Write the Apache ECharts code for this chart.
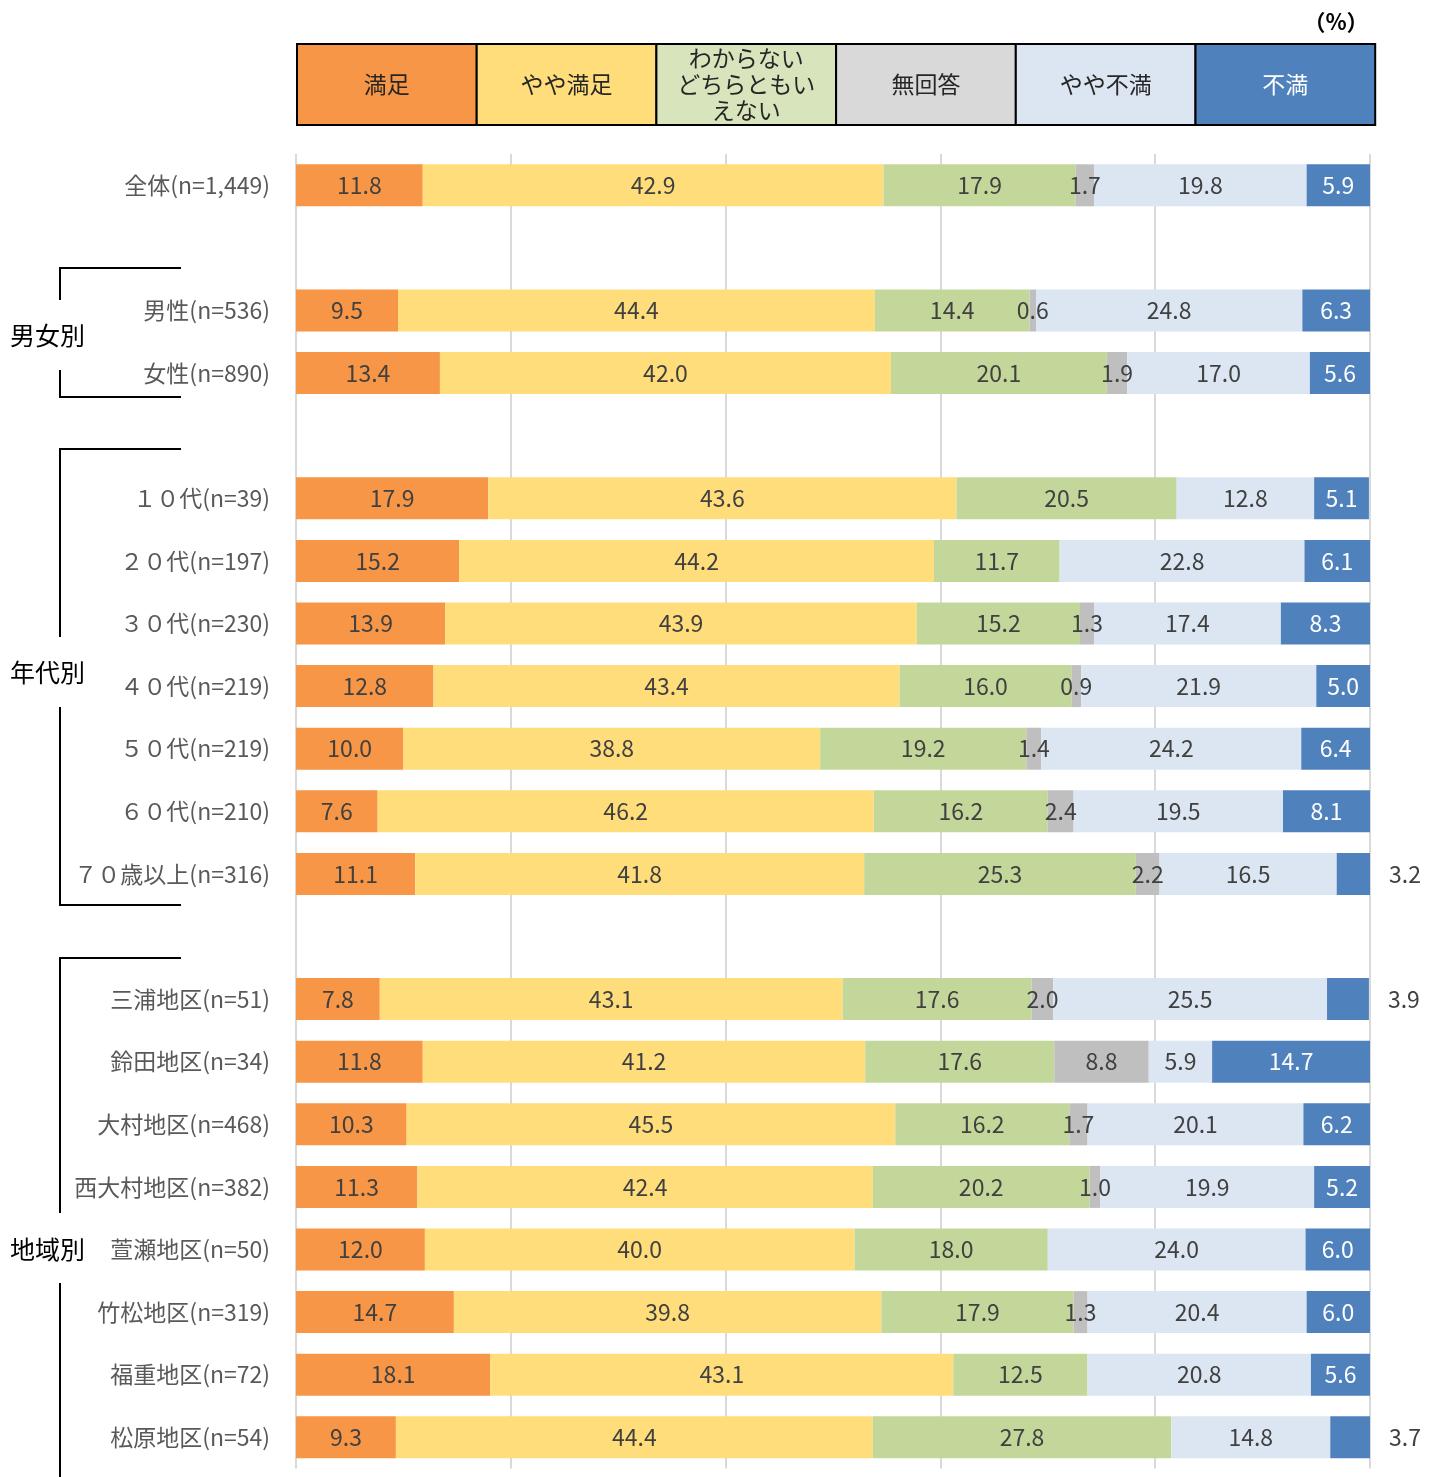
<!DOCTYPE html>
<html><head><meta charset="utf-8">
<script src="https://cdn.jsdelivr.net/npm/echarts@6/dist/echarts.min.js"></script>
<style>html,body{margin:0;padding:0;background:#fff}#c{width:1442px;height:1477px}</style>
</head><body><div id="c"></div>
<script>
// ---- data ----
const categories = ['全体(n=1,449)', ' ', '男性(n=536)', '女性(n=890)', '  ',
  '１０代(n=39)', '２０代(n=197)', '３０代(n=230)', '４０代(n=219)', '５０代(n=219)', '６０代(n=210)', '７０歳以上(n=316)', '   ',
  '三浦地区(n=51)', '鈴田地区(n=34)', '大村地区(n=468)', '西大村地区(n=382)', '萱瀬地区(n=50)', '竹松地区(n=319)', '福重地区(n=72)', '松原地区(n=54)'];
const seriesNames = ['満足', 'やや満足', 'わからない どちらともいえない', '無回答', 'やや不満', '不満'];
const legendLabels = ['満足', 'やや満足', 'わからない\nどちらともい\nえない', '無回答', 'やや不満', '不満'];
const manzoku   = [11.8, null, 9.5, 13.4, null, 17.9, 15.2, 13.9, 12.8, 10.0, 7.6, 11.1, null, 7.8, 11.8, 10.3, 11.3, 12.0, 14.7, 18.1, 9.3];
const yayaManzoku = [42.9, null, 44.4, 42.0, null, 43.6, 44.2, 43.9, 43.4, 38.8, 46.2, 41.8, null, 43.1, 41.2, 45.5, 42.4, 40.0, 39.8, 43.1, 44.4];
const wakaranai = [17.9, null, 14.4, 20.1, null, 20.5, 11.7, 15.2, 16.0, 19.2, 16.2, 25.3, null, 17.6, 17.6, 16.2, 20.2, 18.0, 17.9, 12.5, 27.8];
const mukaitou  = [1.7, null, 0.6, 1.9, null, 0, 0, 1.3, 0.9, 1.4, 2.4, 2.2, null, 2.0, 8.8, 1.7, 1.0, 0, 1.3, 0, 0];
const yayaFuman = [19.8, null, 24.8, 17.0, null, 12.8, 22.8, 17.4, 21.9, 24.2, 19.5, 16.5, null, 25.5, 5.9, 20.1, 19.9, 24.0, 20.4, 20.8, 14.8];
const fuman     = [5.9, null, 6.3, 5.6, null, 5.1, 6.1, 8.3, 5.0, 6.4, 8.1, 3.2, null, 3.9, 14.7, 6.2, 5.2, 6.0, 6.0, 5.6, 3.7];
const groupNames = ['男女別', '年代別', '地域別'];

// ---- styles ----
const FONT = "'Noto Sans CJK JP', 'Noto Sans', sans-serif";
const barColors = ['#F79646', '#FFDD7B', '#C4D79B', '#BFBFBF', '#DCE6F2', '#4F81BD'];
const legendColors = ['#F79646', '#FFDD7B', '#D8E4BC', '#D9D9D9', '#DCE6F2', '#4F81BD'];
const labelColors = ['#404040', '#404040', '#404040', '#404040', '#404040', '#FFFFFF'];
const allValues = [manzoku, yayaManzoku, wakaranai, mukaitou, yayaFuman, fuman];

const chart = echarts.init(document.getElementById('c'));

const series = allValues.map((vals, si) => ({
  name: seriesNames[si],
  type: 'bar',
  stack: 'total',
  barWidth: 42,
  itemStyle: {color: barColors[si]},
  label: {
    show: true,
    position: 'inside',
    fontFamily: FONT,
    fontSize: 23,
    color: labelColors[si],
    formatter: p => (p.value ? p.value.toFixed(1) : '')
  },
  data: vals.map(v => {
    if (si === 5 && v != null && v < 4) {
      return {value: v, label: {position: 'right', distance: 19, color: '#404040'}};
    }
    return v;
  })
}));

// legend cells
const graphics = [];
const lgLeft = 297, lgTop = 44, lgW = 179.7, lgH = 81;
legendLabels.forEach((t, i) => {
  graphics.push({
    type: 'rect',
    shape: {x: lgLeft + i * lgW, y: lgTop, width: lgW, height: lgH},
    style: {fill: legendColors[i], stroke: '#000', lineWidth: 2},
    z: 10
  });
  graphics.push({
    type: 'text',
    x: lgLeft + i * lgW + lgW / 2,
    y: lgTop + lgH / 2,
    style: {text: t, textAlign: 'center', textVerticalAlign: 'middle',
      fontFamily: FONT, fontSize: 23, lineHeight: 26,
      fill: i === 5 ? '#FFFFFF' : '#262626'},
    z: 11
  });
});
graphics.push({
  type: 'text', x: 1336, y: 22,
  style: {text: '（%）', textAlign: 'center', textVerticalAlign: 'middle',
    fontFamily: FONT, fontSize: 22, fontWeight: 'bold', fill: '#000'}
});

// group brackets
const brackets = [
  {top: 268, bottom: 397, gapTop: 300, gapBottom: 370, textY: 335},
  {top: 449, bottom: 905, gapTop: 637, gapBottom: 707, textY: 672},
  {top: 958, bottom: 1480, gapTop: 1213, gapBottom: 1283, textY: 1249}
];
brackets.forEach((b, i) => {
  const ls = {stroke: '#000', lineWidth: 2, fill: null};
  graphics.push({type: 'polyline', shape: {points: [[181, b.top], [60, b.top], [60, b.gapTop]]}, style: ls});
  graphics.push({type: 'polyline', shape: {points: [[60, b.gapBottom], [60, b.bottom], [181, b.bottom]]}, style: Object.assign({}, ls)});
  graphics.push({
    type: 'text', x: 10, y: b.textY,
    style: {text: groupNames[i], textAlign: 'left', textVerticalAlign: 'middle',
      fontFamily: FONT, fontSize: 25, fill: '#000'}
  });
});

chart.setOption({
  animation: false,
  backgroundColor: '#fff',
  grid: {left: 296, right: 72, top: 154, bottom: 8.4, containLabel: false},
  xAxis: {
    type: 'value', min: 0, max: 100, interval: 20,
    axisLabel: {show: false}, axisLine: {show: false}, axisTick: {show: false},
    splitLine: {show: true, lineStyle: {color: '#D9D9D9', width: 2}}
  },
  yAxis: {
    type: 'category', inverse: true, data: categories,
    axisLine: {show: false}, axisTick: {show: false},
    axisLabel: {fontFamily: FONT, fontSize: 23, color: '#595959', margin: 26}
  },
  series: series,
  graphic: graphics
});
</script>
</body></html>
